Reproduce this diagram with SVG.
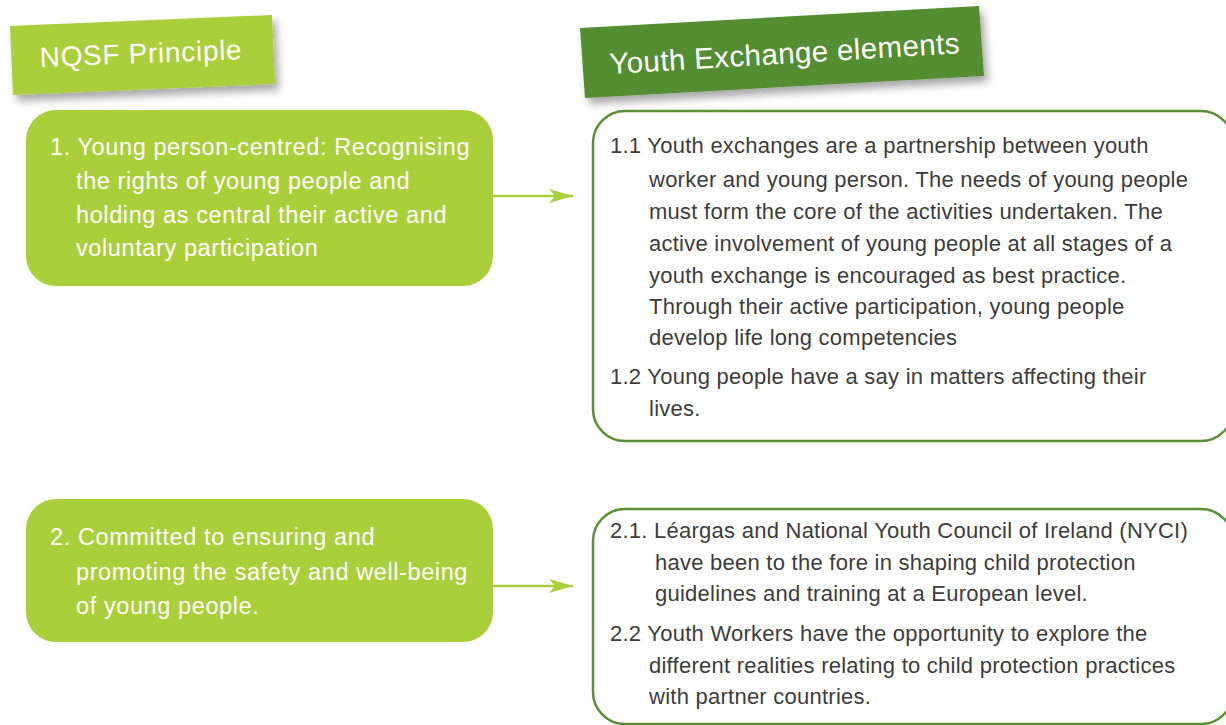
<svg xmlns="http://www.w3.org/2000/svg" width="1226" height="725" viewBox="0 0 1226 725">
<defs>
<style>
.lt{fill:#a9cf3b}
.dk{fill:#558d32}
.ob{fill:#ffffff;stroke:#5a9136;stroke-width:2.5}
.wt{font-family:"Liberation Sans",Arial,sans-serif;fill:#ffffff;font-size:23.5px;letter-spacing:0.6px}
.bt{font-family:"Liberation Sans",Arial,sans-serif;fill:#3c3c3c;font-size:22px;letter-spacing:0.25px}
.ht{font-family:"Liberation Sans",Arial,sans-serif;fill:#ffffff}
.conn{stroke:#a9cf3b;stroke-width:2.5;fill:none}
</style>
<filter id="sh" x="-10%" y="-20%" width="130%" height="160%">
<feGaussianBlur in="SourceAlpha" stdDeviation="4"/>
<feOffset dx="4" dy="6"/>
<feComponentTransfer><feFuncA type="linear" slope="0.35"/></feComponentTransfer>
<feMerge><feMergeNode/><feMergeNode in="SourceGraphic"/></feMerge>
</filter>
<marker id="ah" viewBox="0 0 24 14" refX="24" refY="7" markerWidth="24" markerHeight="14" markerUnits="userSpaceOnUse" orient="auto">
<path d="M0,0 L24,7 L0,14 L6,7 Z" fill="#a9cf3b"/>
</marker>
</defs>
<rect width="1226" height="725" fill="#ffffff"/>

<g id="header-nqsf">
<polygon class="lt" points="10,26 272,15 275,84 13,95" filter="url(#sh)"/>
<text class="ht" x="40" y="67" font-size="28" letter-spacing="0.7" transform="rotate(-2.2 40 67)">NQSF Principle</text>
</g>

<g id="header-youth">
<polygon class="dk" points="580,28 979,6 984,76 585,98" filter="url(#sh)"/>
<text class="ht" x="610" y="74" font-size="29.5" letter-spacing="0.4" transform="rotate(-3.4 610 74)">Youth Exchange elements</text>
</g>

<g id="principle-1">
<rect class="lt" x="26" y="110" width="467" height="176" rx="30"/>
<text class="wt"><tspan x="50" y="155">1. Young person-centred: Recognising</tspan><tspan x="76" y="189">the rights of young people and</tspan><tspan x="76" y="223">holding as central their active and</tspan><tspan x="76" y="256">voluntary participation</tspan></text>
</g>

<g id="elements-1">
<rect class="ob" x="593" y="111" width="640" height="330" rx="32"/>
<text class="bt"><tspan x="610" y="153">1.1 Youth exchanges are a partnership between youth</tspan><tspan x="649" y="187">worker and young person. The needs of young people</tspan><tspan x="649" y="219">must form the core of the activities undertaken. The</tspan><tspan x="649" y="251">active involvement of young people at all stages of a</tspan><tspan x="649" y="283">youth exchange is encouraged as best practice.</tspan><tspan x="649" y="314">Through their active participation, young people</tspan><tspan x="649" y="345">develop life long competencies</tspan><tspan x="610" y="384">1.2 Young people have a say in matters affecting their</tspan><tspan x="649" y="416">lives.</tspan></text>
</g>

<g id="principle-2">
<rect class="lt" x="26" y="499" width="467" height="143" rx="30"/>
<text class="wt"><tspan x="50" y="545">2. Committed to ensuring and</tspan><tspan x="76" y="580">promoting the safety and well-being</tspan><tspan x="76" y="614">of young people.</tspan></text>
</g>

<g id="elements-2">
<rect class="ob" x="593" y="509" width="640" height="215" rx="32"/>
<text class="bt"><tspan x="610" y="538">2.1. Léargas and National Youth Council of Ireland (NYCI)</tspan><tspan x="655" y="570">have been to the fore in shaping child protection</tspan><tspan x="655" y="601">guidelines and training at a European level.</tspan><tspan x="610" y="641">2.2 Youth Workers have the opportunity to explore the</tspan><tspan x="649" y="673">different realities relating to child protection practices</tspan><tspan x="649" y="704">with partner countries.</tspan></text>
</g>

<g id="connectors">
<line class="conn" x1="493" y1="196" x2="573" y2="196" marker-end="url(#ah)"/>
<line class="conn" x1="493" y1="586" x2="573" y2="586" marker-end="url(#ah)"/>
</g>
</svg>
